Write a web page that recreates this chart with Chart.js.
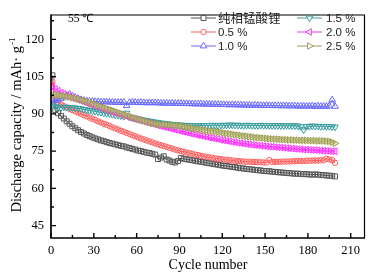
<!DOCTYPE html>
<html>
<head>
<meta charset="utf-8">
<script src="https://cdn.jsdelivr.net/npm/chart.js@4.4.1/dist/chart.umd.min.js"></script>
<style>
  html, body { margin: 0; padding: 0; background: #fff; }
  #wrap { width: 370px; height: 274px; }
</style>
</head>
<body>
<div id="wrap"><canvas id="myChart" width="370" height="274"></canvas></div>
<script>
// cycle numbers (every other cycle)
const cycles = [1,3,5,7,9,11,13,15,17,19, 21,23,25,27,29,31,33,35,37,39,
  41,43,45,47,49,51,53,55,57,59, 61,63,65,67,69,71,73,75,77,79,
  81,83,85,87,89,91,93,95,97,99, 101,103,105,107,109,111,113,115,117,119,
  121,123,125,127,129,131,133,135,137,139, 141,143,145,147,149,151,153,155,157,159,
  161,163,165,167,169,171,173,175,177,179, 181,183,185,187,189,191,193,195,197,199];

// discharge capacity, mAh/g
const pure = [105.5,91.5,90.2,89.2,88.1,87,86,85,84.2,83.4,
  82.7,82.1,81.5,81,80.5,80.1,79.7,79.3,79,78.6,
  78.3,78,77.7,77.4,77.1,76.9,76.5,76.2,75.9,75.6,
  75.2,75,74.7,74.4,74.2,73.9,73.6,71.8,72.4,72.9,
  71.6,71.2,70.7,70.4,71,72.2,71.9,71.7,71.5,71.3,
  71.1,70.9,70.7,70.5,70.3,70.1,69.9,69.7,69.5,69.3,
  69.1,69,68.8,68.6,68.5,68.3,68.1,68,67.8,67.7,
  67.6,67.4,67.3,67.2,67,66.9,66.9,66.7,66.6,66.5,
  66.4,66.3,66.2,66.1,66,65.9,65.9,65.8,65.7,65.7,
  65.6,65.5,65.6,65.5,65.4,65.3,65.2,65.1,65,64.8];
const doped05 = [103,95.5,94.5,93.8,93.1,92.5,92,91.5,91,90.5,
  90,89.5,89,88.5,88,87.5,87,86.5,86,85.6,
  85.1,84.6,84.1,83.7,83.2,82.8,82.3,81.9,81.4,81,
  80.5,80.1,79.7,79.3,78.9,78.5,78.1,77.7,77.4,77,
  76.7,76.3,76,75.6,75.3,75,74.7,74.4,74.2,73.9,
  73.6,73.4,73.1,72.9,72.7,72.5,72.3,72.1,71.9,71.8,
  71.6,71.5,71.4,71.2,71.1,71,70.9,70.8,70.7,70.7,
  70.6,70.6,70.5,70.5,70.4,70.4,71.4,70.6,70.6,70.7,
  70.7,70.8,70.8,70.8,70.9,70.9,71,71,71,71.1,
  71.1,71.2,71.2,71.2,71.3,71.3,71.9,71.6,71.4,70.3];
const doped10 = [95.5,95.2,95.6,96.2,96.8,97.4,97.9,97.2,96.6,96.1,
  95.7,95.4,95.2,95,95,94.9,94.9,94.8,94.8,94.8,
  94.7,94.7,94.6,94.6,94.6,94.7,93.3,94.6,94.7,94.6,
  94.5,94.6,94.5,94.4,94.5,94.4,94.5,94.4,94.3,94.3,
  94.3,94.2,94.3,94.2,94.2,94.2,94.1,94.1,94.1,94,
  94,94,94,93.9,93.9,93.9,93.8,93.8,93.8,93.7,
  93.7,93.7,93.6,93.7,93.6,93.6,93.5,93.5,93.5,93.5,
  93.4,93.5,93.4,93.4,93.3,93.4,93.3,93.3,93.3,93.3,
  93.2,93.3,93.2,93.2,93.2,93.2,93.1,93.1,93.1,93.1,
  93.1,93.2,93,93.1,93,93.1,93,93.2,95.6,93];
const doped15 = [93.5,92.9,92.6,92.5,92.7,92.7,92.6,92.5,92.4,92.2,
  92,91.8,91.6,91.4,91.2,91,90.8,90.6,90.4,90.2,
  90,89.8,89.6,89.4,89.2,89,90.3,88.7,88.5,88.2,
  88,87.7,87.5,87.3,87.1,86.9,86.7,86.5,86.3,86.2,
  86,85.9,85.8,85.7,85.6,85.5,85.4,85.4,85.3,85.3,
  85.2,85.2,85.2,85.3,85.3,85.3,85.4,85.4,85.3,85.4,
  85.4,85.4,85.5,85.5,85.4,85.4,85.4,85.3,85.4,85.4,
  85.3,85.3,85.3,85.4,85.3,85.3,85.3,85.2,85.3,85.3,
  85.2,85.2,85.3,85.2,85.2,85.2,85.1,84.8,83.6,84.9,
  85,85.1,85,85,84.9,85,84.9,84.9,84.8,84.7];
const doped20 = [101,100,99.3,98.6,98,97.5,97,96.5,96.1,95.6,
  95.2,94.8,94.3,93.9,93.5,93.1,92.7,92.3,91.9,91.5,
  91.1,90.7,90.3,90,89.6,89.3,88.9,88.6,88.2,87.9,
  87.6,87.3,86.9,86.6,86.3,86,85.6,85.3,85,84.7,
  84.5,84.2,83.9,83.6,83.3,83,82.7,82.5,82.2,81.9,
  81.7,81.4,81.2,80.9,80.7,80.4,80.2,80,79.8,79.5,
  79.3,79.1,78.9,78.7,78.5,78.3,78.2,78,77.8,77.7,
  77.5,77.4,77.3,77.1,77,76.9,76.8,76.7,76.6,76.5,
  76.4,76.3,76.2,76.1,76,75.9,75.8,75.7,75.6,75.6,
  75.5,75.4,75.4,75.3,75.2,75.1,75.1,75,74.9,74.9];
const doped25 = [97.7,97.6,97.5,97.3,97.2,97,96.8,96.5,96.2,95.9,
  95.6,95.3,94.9,94.5,94.1,93.7,93.3,92.9,92.5,92.1,
  91.8,91.4,91,90.6,90.2,89.8,89.4,89,88.6,88.2,
  87.8,87.5,87.1,86.8,86.5,86.2,86,85.8,85.7,85.6,
  85.5,85.4,85.3,85.2,85.2,85.1,84.8,84.6,84.4,84.2,
  84,83.8,83.7,83.5,83.3,83.2,83,82.8,82.7,82.5,
  82.3,82.1,82,81.8,81.6,81.4,81.3,81.1,81,80.8,
  80.7,80.5,80.4,80.3,80.2,80.1,80,79.9,79.8,79.8,
  79.7,79.6,79.6,79.5,79.5,79.4,79.4,79.3,79.3,79.3,
  79.2,79.2,79.2,79.1,79.2,79.1,79,78.9,78.6,78.1];

const seriesLabels = ['纯相锰酸锂', '0.5 %', '1.0 %', '1.5 %', '2.0 %', '2.5 %'];
const xTicks = [0, 30, 60, 90, 120, 150, 180, 210];
const yTicks = [45, 60, 75, 90, 105, 120];

const serif = '"Liberation Serif", "Times New Roman", serif';
const sans = '"Liberation Sans", Arial, sans-serif';

// marker look per series: colour, fill, point style, rotation, radius
const looks = [
  { color: '#555555', fill: 'rgba(255,255,255,0)', style: 'rect', rot: 0, r: 3.5 },
  { color: '#ff5a5a', fill: 'rgba(255,255,255,0)', style: 'circle', rot: 0, r: 2.7 },
  { color: '#6868ff', fill: 'rgba(255,255,255,0)', style: 'triangle', rot: 0, r: 3.8 },
  { color: '#3a9e9e', fill: 'rgba(255,255,255,0)', style: 'triangle', rot: 180, r: 3.8 },
  { color: '#ff30ff', fill: 'rgba(255,255,255,0)', style: 'triangle', rot: -90, r: 3.8 },
  { color: '#9c9c50', fill: 'rgba(205,205,150,0.45)', style: 'triangle', rot: 90, r: 3.8 }
];

const allValues = [pure, doped05, doped10, doped15, doped20, doped25];

function makeDataset(values, i) {
  const look = looks[i];
  return {
    label: seriesLabels[i],
    data: cycles.map((c, k) => ({ x: c, y: values[k] })),
    borderColor: look.color,
    borderWidth: 1,
    pointStyle: look.style,
    pointRotation: look.rot,
    pointRadius: look.r,
    pointBorderColor: look.color,
    pointBackgroundColor: look.fill,
    pointBorderWidth: 1,
    order: 6 - i
  };
}

// axes frame, inward ticks, legend, y title
const decorations = {
  id: 'decorations',
  afterDraw(chart) {
    const ctx = chart.ctx;
    const a = chart.chartArea;
    const xs = chart.scales.x;
    const ys = chart.scales.y;

    ctx.save();
    ctx.strokeStyle = '#000';
    ctx.lineWidth = 1.2;
    ctx.beginPath();
    ctx.moveTo(a.left, a.top + 0.5);
    ctx.lineTo(a.right - 0.5, a.top + 0.5);
    ctx.lineTo(a.right - 0.5, a.bottom);
    ctx.stroke();
    ctx.lineWidth = 1.7;
    ctx.beginPath();
    ctx.moveTo(a.left, a.top);
    ctx.lineTo(a.left, a.bottom);
    ctx.lineTo(a.right, a.bottom);
    ctx.stroke();

    ctx.lineWidth = 1.4;
    ctx.beginPath();
    xTicks.forEach((v) => {
      const px = xs.getPixelForValue(v);
      ctx.moveTo(px, a.bottom);
      ctx.lineTo(px, a.bottom - 5);
      const mid = xs.getPixelForValue(v + 15);
      if (v + 15 < xs.max) {
        ctx.moveTo(mid, a.bottom);
        ctx.lineTo(mid, a.bottom - 3);
      }
    });
    yTicks.forEach((v) => {
      const py = ys.getPixelForValue(v);
      ctx.moveTo(a.left, py);
      ctx.lineTo(a.left + 5, py);
      [v - 7.5, v + 7.5].forEach((m) => {
        if (m > ys.min && m < ys.max) {
          const pm = ys.getPixelForValue(m);
          ctx.moveTo(a.left, pm);
          ctx.lineTo(a.left + 3, pm);
        }
      });
    });
    ctx.stroke();

    // temperature note
    ctx.fillStyle = '#000';
    ctx.font = '11.5px ' + serif;
    ctx.textAlign = 'left';
    ctx.textBaseline = 'alphabetic';
    ctx.fillText('55 ℃', 68, 22);

    // legend, two columns
    const colLine = [191, 297];
    const colText = [218, 326];
    const rowY = [18, 32, 46];
    looks.forEach((look, i) => {
      const col = i < 3 ? 0 : 1;
      const y = rowY[i % 3];
      const x0 = colLine[col];
      ctx.strokeStyle = look.color;
      ctx.lineWidth = 1;
      ctx.beginPath();
      ctx.moveTo(x0, y);
      ctx.lineTo(x0 + 25, y);
      ctx.stroke();
      ctx.fillStyle = '#fff';
      Chart.helpers.drawPoint(ctx, {
        pointStyle: look.style,
        rotation: look.rot,
        radius: look.r,
        borderWidth: 1
      }, x0 + 12.5, y);
      ctx.fillStyle = '#222';
      ctx.textBaseline = 'middle';
      ctx.font = i === 0 ? '12.5px "Noto Sans CJK SC", sans-serif' : '11.5px ' + sans;
      ctx.fillText(seriesLabels[i], colText[col], y + 0.5);
    });

    // y axis title with superscript
    const main = 'Discharge capacity / mAh· g';
    ctx.fillStyle = '#000';
    ctx.textBaseline = 'alphabetic';
    ctx.translate(20.5, 125);
    ctx.rotate(-Math.PI / 2);
    ctx.font = '14.5px ' + serif;
    const wMain = ctx.measureText(main).width;
    ctx.font = '9px ' + serif;
    const wSup = ctx.measureText('-1').width;
    const start = -(wMain + wSup + 1) / 2;
    ctx.font = '14.5px ' + serif;
    ctx.fillText(main, start, 0);
    ctx.font = '9px ' + serif;
    ctx.fillText('-1', start + wMain + 1, -6);
    ctx.restore();
  }
};

const chart = new Chart(document.getElementById('myChart'), {
  type: 'line',
  data: { datasets: allValues.map(makeDataset) },
  options: {
    responsive: false,
    animation: false,
    devicePixelRatio: 1,
    layout: { padding: { top: 1, right: 2, left: 0, bottom: 0 } },
    plugins: { legend: { display: false }, tooltip: { enabled: false } },
    scales: {
      x: {
        type: 'linear',
        min: 0,
        max: 220,
        afterBuildTicks: (s) => { s.ticks = xTicks.map((v) => ({ value: v })); },
        afterFit: (s) => { s.height = 36; },
        grid: { display: false, drawTicks: false },
        border: { display: false },
        ticks: { color: '#000', font: { family: serif, size: 12.5 }, padding: 5, maxRotation: 0, autoSkip: false },
        title: { display: true, text: 'Cycle number', color: '#000', font: { family: serif, size: 14 }, padding: 0 }
      },
      y: {
        min: 40,
        max: 130,
        afterBuildTicks: (s) => { s.ticks = yTicks.map((v) => ({ value: v })); },
        afterFit: (s) => { s.width = 51; },
        grid: { display: false, drawTicks: false },
        border: { display: false },
        ticks: { color: '#000', font: { family: serif, size: 12.5 }, padding: 7 }
      }
    }
  },
  plugins: [decorations]
});
</script>
</body>
</html>
